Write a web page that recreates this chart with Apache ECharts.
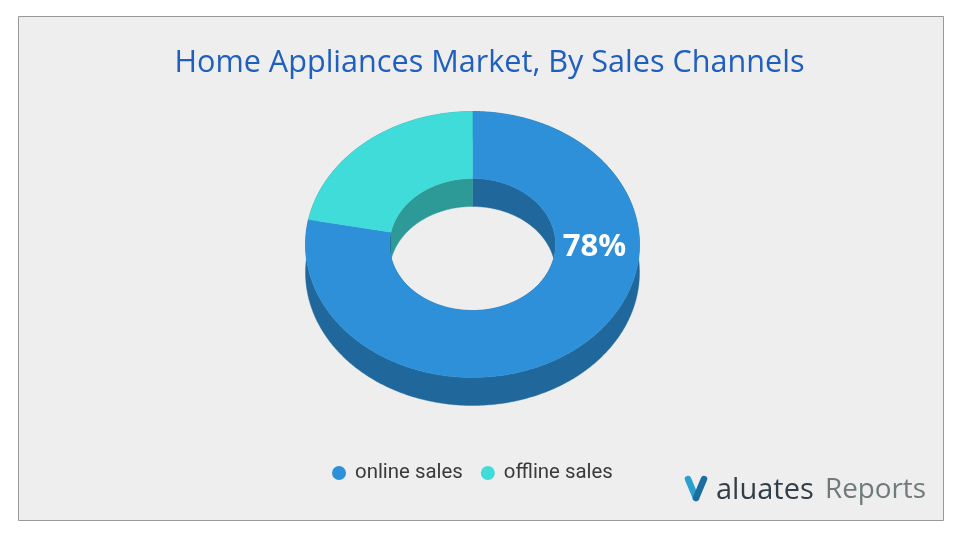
<!DOCTYPE html>
<html><head><meta charset="utf-8">
<style>html,body{margin:0;padding:0;background:#fff}#c{width:960px;height:540px}</style>
<script src="https://cdn.jsdelivr.net/npm/echarts@6/dist/echarts.min.js"></script>
</head><body><div id="c"></div>
<script>
const titleText = 'Home Appliances Market, By Sales Channels';
const channels = ['online sales', 'offline sales'];
const shares = [78, 22];
const labelled = [true, false];
const topColors = ['#2E90D8', '#40DCD9'];
const wallColors = ['#20689B', '#2E9A98'];

const cx = 472.5, cy = 244.5, rxO = 167, ryO = 133, rxI = 83, ryI = 66, depth = 28;
const total = shares.reduce((a, b) => a + b, 0);

function arc(rx, ry, a0, a1, dy) {
  const n = Math.max(2, Math.ceil(Math.abs(a1 - a0) / 0.01)), pts = [];
  for (let i = 0; i <= n; i++) {
    const a = a0 + (a1 - a0) * i / n;
    pts.push([cx + rx * Math.sin(a), cy - ry * Math.cos(a) + dy]);
  }
  return pts;
}
function makeRender(idx) {
  return function (params, api) {
    const before = shares.slice(0, idx).reduce((a, b) => a + b, 0);
    const a0 = before / total * 2 * Math.PI;
    const a1 = a0 + api.value(0) / total * 2 * Math.PI;
    const poly = (points, fill, z2) => ({ type: 'polygon', z2, shape: { points }, style: { fill, stroke: fill, lineWidth: 0.4 } });
    const children = [
      poly(arc(rxO, ryO, a0, a1, 0).concat(arc(rxO, ryO, a1, a0, depth)), wallColors[idx], 1),
      poly(arc(rxI, ryI, a0, a1, 0).concat(arc(rxI, ryI, a1, a0, depth)), wallColors[idx], 2),
      poly(arc(rxO, ryO, a0, a1, 0).concat(arc(rxI, ryI, a1, a0, 0)), topColors[idx], 3)
    ];
    if (labelled[idx]) {
      children.push({ type: 'text', z2: 5, style: { x: 594.5, y: 247.5, text: api.value(0) + '%', fill: '#fff',
        font: 'bold 31px "Open Sans"', textAlign: 'center', textVerticalAlign: 'middle' } });
    }
    return { type: 'group', children };
  };
}
const chart = echarts.init(document.getElementById('c'));
chart.setOption({
  animation: false,
  title: { text: titleText, left: 484.5, textAlign: 'center', top: 43,
    textStyle: { fontFamily: 'Open Sans', fontWeight: 'normal', fontSize: 30.6, color: '#1F5FBF' } },
  legend: { data: channels, left: 332, top: 463, itemWidth: 22, itemHeight: 14, itemGap: 18, icon: 'circle', padding: 0,
    textStyle: { fontFamily: 'Roboto', fontSize: 20.4, color: '#3A3A3A' } },
  graphic: [
    { type: 'rect', z: -1, shape: { x: 18.5, y: 16.5, width: 925, height: 504 }, style: { fill: '#EEEEEE', stroke: '#999999', lineWidth: 1 } },
    { type: 'polyline', z: 1, shape: { points: [[688, 479], [696, 498]] }, style: { stroke: '#2A9FD0', lineWidth: 6.5, lineCap: 'round', fill: null } },
    { type: 'polyline', z: 1, shape: { points: [[696, 498], [704, 479]] }, style: { stroke: '#1D6E9E', lineWidth: 6.5, lineCap: 'round', fill: null } },
    { type: 'text', z: 1, style: { x: 716, y: 490.5, text: 'aluates', font: '29px "Open Sans"', fill: '#333F48', textVerticalAlign: 'middle' } },
    { type: 'text', z: 1, style: { x: 825, y: 490.5, text: 'Reports', font: '27.8px "Open Sans"', fill: '#6F7B7B', textVerticalAlign: 'middle' } }
  ],
  series: channels.map((name, i) => ({
    type: 'custom', name, coordinateSystem: 'none', silent: true,
    color: topColors[i], itemStyle: { color: topColors[i] },
    renderItem: makeRender(i), data: [[shares[i]]]
  }))
});
</script></body></html>
